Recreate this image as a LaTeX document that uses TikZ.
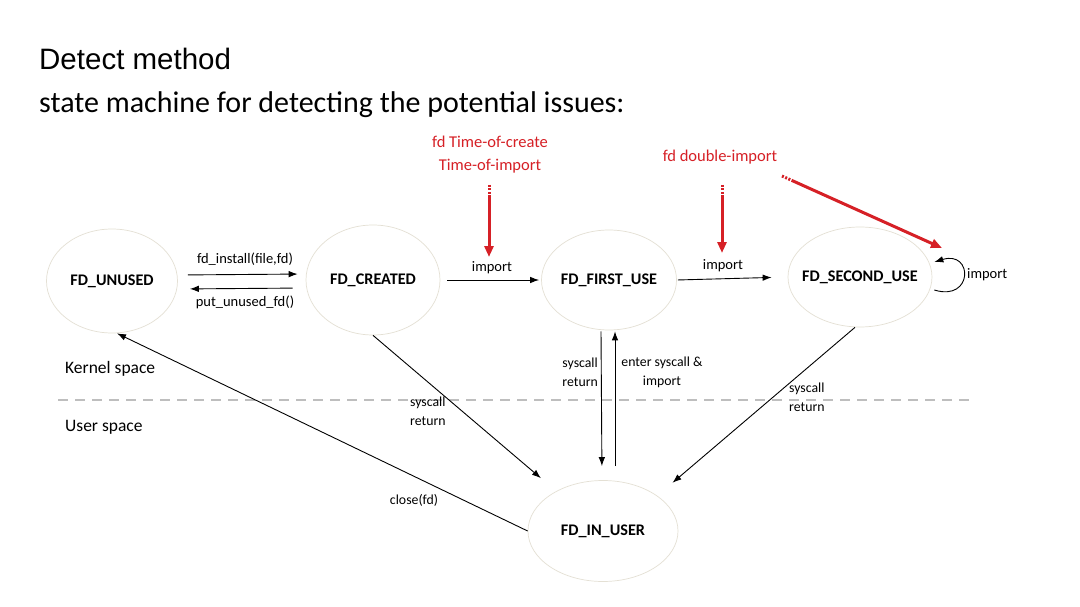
\documentclass[tikz,border=0pt]{standalone}
\usepackage{fontspec}
\setmainfont{Carlito}
\newfontfamily\arialf{Liberation Sans}
\usetikzlibrary{shapes.geometric,arrows.meta}
\definecolor{redc}{RGB}{214,32,38}
\definecolor{ellc}{RGB}{228,224,212}
\definecolor{dashc}{RGB}{190,190,190}
\newcommand{\zlab}[1]{\makebox[0pt]{#1}}
\tikzset{
  st/.style={ellipse,draw=ellc,line width=0.7pt,inner sep=0pt,
    font=\fontsize{16.2}{18}\selectfont\bfseries},
  lbl/.style={inner sep=0pt,font=\fontsize{14.5}{19}\selectfont},
  lowlbl/.style={inner sep=0pt,font=\fontsize{13.8}{19}\selectfont},
  arr/.style={line width=0.9pt,-{Latex[length=9pt,width=6.5pt]}},
  redarr/.style={draw=redc,line width=3pt,-{Triangle[length=11pt,width=9pt]},
    dash pattern=on 2pt off 1.5pt on 2pt off 1.5pt on 2pt off 1.5pt on 400pt},
  redlbl/.style={text=redc,inner sep=0pt,align=center,
    font=\fontsize{16.5}{23}\selectfont},
}
\begin{document}
\begin{tikzpicture}[x=1pt,y=-1pt]
\path[use as bounding box,fill=white] (0,0) rectangle (1080,607);

% titles
\node[anchor=base west,inner sep=0pt,font=\arialf\fontsize{29.5}{32}\selectfont] (title) at (39,70) {Detect method};
\node[anchor=base west,inner sep=0pt,font=\fontsize{30}{32}\selectfont] (subtitle) at (39,113) {state machine for detecting the potential issues:};

% separator
\draw[dashc,line width=2pt,dash pattern=on 10pt off 7pt] (58,400) coordinate (sepa) -- (975,400) coordinate (sepb);
\node[inner sep=0pt,anchor=west,font=\fontsize{17.5}{18}\selectfont] (kern) at (65,369) {Kernel space};
\node[inner sep=0pt,anchor=west,font=\fontsize{17.5}{18}\selectfont] (user) at (65,427) {User space};

% states
\node[st,minimum width=131pt,minimum height=104pt] (unused) at (112,281) {\zlab{FD\_UNUSED}};
\node[st,minimum width=134pt,minimum height=110pt] (created) at (373,280) {\zlab{FD\_CREATED}};
\node[st,minimum width=135pt,minimum height=100pt] (first) at (609,280) {\zlab{FD\_FIRST\_USE}};
\node[st,minimum width=144pt,minimum height=100pt] (second) at (860,277) {\zlab{FD\_SECOND\_USE}};
\node[st,minimum width=150pt,minimum height=101pt] (inuser) at (603,531) {\zlab{FD\_IN\_USER}};

% unused <-> created
\draw[arr,shorten <=10pt,shorten >=8pt] ([yshift=6pt]unused.east) -- ([yshift=6pt]created.west);
\draw[arr,shorten <=13pt,shorten >=12pt] ([yshift=-8pt]created.west) -- ([yshift=-8pt]unused.east);
\node[lbl] (l1) at (245,259) {fd\_install(file,fd)};
\node[lbl] (l2) at (245,302) {put\_unused\_fd()};

% imports
\draw[arr,shorten <=7pt,shorten >=2pt] (created.east) -- (first.west);
\node[lbl] (imp1) at (492,268) {import};
\draw[arr,shorten <=1pt,shorten >=16pt] (first.east) -- (second.west);
\node[lbl] (imp2) at (723,266) {import};

% self loop
\draw[arr] ([xshift=2pt,yshift=-13pt]second.east) .. controls +(39,12) and +(39,-12) .. ([xshift=2pt,yshift=15pt]second.east);
\node[lbl,anchor=west] (imp3) at (967,275) {import};

% to / from in-user
\draw[arr,shorten >=20pt] (created.south) -- (inuser);
\node[lowlbl,anchor=west,align=left] (l3) at (410,411) {syscall\\return};

\draw[arr,shorten <=1pt,shorten >=14pt] ([xshift=-8pt]first.south) -- ([xshift=-1pt]inuser.north);
\draw[arr,shorten <=14pt,shorten >=1pt] ([xshift=12pt]inuser.north) -- ([xshift=6pt]first.south);
\node[lowlbl,anchor=east,align=right] (l4) at (598,372) {syscall\\return};
\node[lowlbl,align=center] (l5) at (662,372) {enter syscall \&\\import};

\draw[arr,shorten >=20pt] ([xshift=-5pt]second.south) -- (inuser.33);
\node[lowlbl,anchor=west,align=left] (l6) at (789,397) {syscall\\return};

\draw[arr] (inuser.west) -- ([xshift=5pt]unused.south);
\node[lowlbl] (l7) at (414,500) {close(fd)};

% red annotations
\node[redlbl] (r1) at (490,155) {fd Time-of-create\\Time-of-import};
\node[redlbl] (r2) at (720,157) {fd double-import};
\coordinate (r1s) at (489,185);
\coordinate (r1e) at (489,257);
\coordinate (r2s) at (722,185);
\coordinate (r2e) at (722,253);
\coordinate (r3s) at (782,176);
\coordinate (r3e) at (942,248);
\draw[redarr] (r1s) -- (r1e);
\draw[redarr] (r2s) -- (r2e);
\draw[redarr] (r3s) -- (r3e);
\end{tikzpicture}
\end{document}
